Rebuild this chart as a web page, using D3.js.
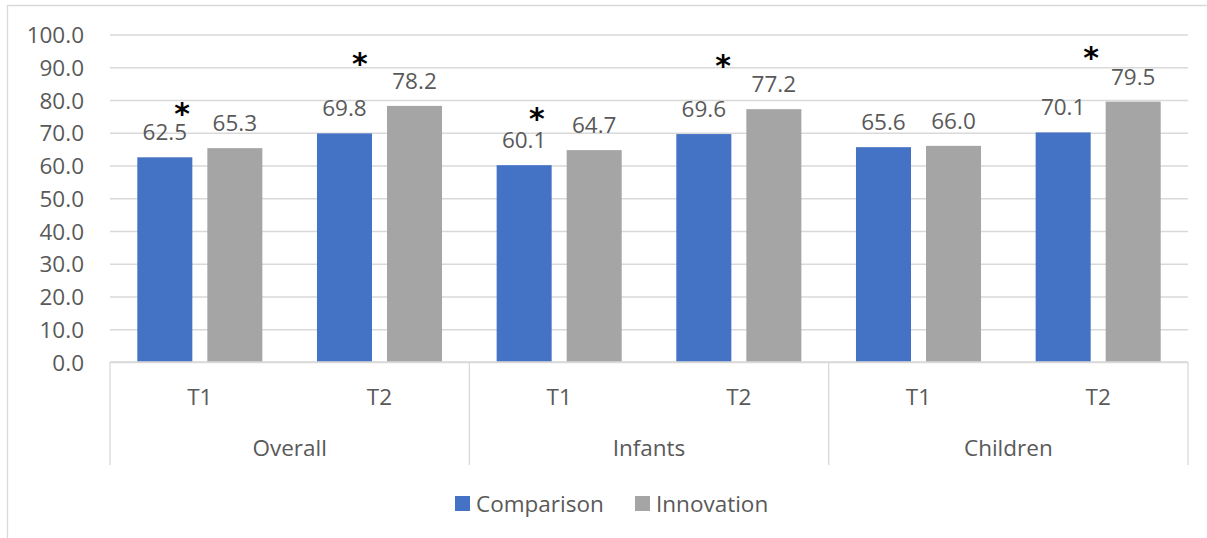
<!DOCTYPE html>
<html>
<head>
<meta charset="utf-8">
<script src="https://cdn.jsdelivr.net/npm/d3@7"></script>
<style>
  html, body { margin: 0; padding: 0; background: #fff; }
  svg { display: block; }
  text { font-family: "Open Sans", "Noto Sans", sans-serif; fill: #595959; }
</style>
</head>
<body>
<svg id="chart" width="1207" height="538"></svg>
<script>
// Groups and time points along the category axis
const groups = ["Overall", "Infants", "Children"];
const times = ["T1", "T2"];

// Series
const seriesNames = ["Comparison", "Innovation"];
const comparison = [62.5, 69.8, 60.1, 69.6, 65.6, 70.1];
const innovation = [65.3, 78.2, 64.7, 77.2, 66.0, 79.5];

// Value-axis ticks
const yTicks = [0, 10, 20, 30, 40, 50, 60, 70, 80, 90, 100];

// Significance markers: category index, height on the value axis, shift within the category
const sigIndex = [0, 1, 2, 3, 5];
const sigLevel = [78.5, 93.7, 76.9, 93.1, 95.3];
const sigShift = [-0.099, -0.109, -0.124, -0.088, -0.040];

const colors = { Comparison: "#4472c4", Innovation: "#a5a5a5" };
const gridColor = "#d9d9d9";

const svg = d3.select("#chart");
const plot = { left: 110, right: 1188, top: 34.5, bottom: 362 };

// Category keys: one per group/time pair
const cats = [];
groups.forEach(g => times.forEach(t => cats.push(g + "|" + t)));
const rows = cats.map((c, i) => ({ key: c, Comparison: comparison[i], Innovation: innovation[i] }));

const x0 = d3.scaleBand().domain(cats).range([plot.left, plot.right]).padding(0);
const x1 = d3.scaleBand().domain(seriesNames).range([0, x0.bandwidth()])
  .paddingInner(15 / 70).paddingOuter(0.39);
const y = d3.scaleLinear().domain([0, 100]).range([plot.bottom, plot.top]);
const xg = d3.scaleBand().domain(groups).range([plot.left, plot.right]).padding(0);

// Outer frame (left and top edges)
svg.append("path")
  .attr("d", "M7.5,538 L7.5,5.5 L1207,5.5")
  .attr("fill", "none").attr("stroke", gridColor).attr("stroke-width", 1.3);

// Gridlines and value-axis labels
const yAxis = d3.axisLeft(y).tickValues(yTicks).tickFormat(d3.format(".1f"))
  .tickSize(-(plot.right - plot.left)).tickPadding(26);
const ya = svg.append("g").attr("transform", `translate(${plot.left},0)`).call(yAxis);
ya.select(".domain").remove();
ya.selectAll(".tick line").attr("stroke", gridColor).attr("stroke-width", 1.3);
ya.selectAll(".tick text").attr("font-size", 22.5).attr("fill", "#595959")
  .attr("font-family", "'Open Sans', sans-serif").attr("dy", "0.36em");

// Bars
const gBars = svg.append("g");
rows.forEach(r => {
  seriesNames.forEach(s => {
    gBars.append("rect")
      .attr("x", x0(r.key) + x1(s))
      .attr("y", y(r[s]))
      .attr("width", x1.bandwidth())
      .attr("height", y(0) - y(r[s]))
      .attr("fill", colors[s]);
  });
});

// Value labels above bars
const gLabels = svg.append("g");
rows.forEach(r => {
  seriesNames.forEach(s => {
    gLabels.append("text")
      .attr("x", x0(r.key) + x1(s) + x1.bandwidth() / 2)
      .attr("y", y(r[s]) - 17)
      .attr("text-anchor", "middle")
      .attr("font-size", 22.5)
      .text(d3.format(".1f")(r[s]));
  });
});

// Significance asterisks
sigIndex.forEach((ci, i) => {
  const key = cats[ci];
  svg.append("text")
    .attr("x", x0(key) + x0.bandwidth() / 2 + sigShift[i] * x0.step())
    .attr("y", y(sigLevel[i]))
    .attr("dy", "0.62em")
    .attr("text-anchor", "middle")
    .attr("font-size", 30)
    .attr("font-weight", "bold")
    .style("font-family", "'DejaVu Sans', sans-serif")
    .style("fill", "#000")
    .text("*");
});

// Category axis baseline
svg.append("line")
  .attr("x1", plot.left).attr("x2", plot.right)
  .attr("y1", y(0)).attr("y2", y(0))
  .attr("stroke", gridColor).attr("stroke-width", 1.3);

// Group separators
const sepBottom = 465;
const seps = groups.map(g => xg(g)).concat([plot.right]);
svg.append("g").selectAll("line").data(seps).join("line")
  .attr("x1", d => d).attr("x2", d => d)
  .attr("y1", y(0)).attr("y2", sepBottom)
  .attr("stroke", gridColor).attr("stroke-width", 1.3);

// Time labels
svg.append("g").selectAll("text").data(cats).join("text")
  .attr("x", d => x0(d) + x0.bandwidth() / 2)
  .attr("y", 397)
  .attr("dy", "0.36em")
  .attr("text-anchor", "middle")
  .attr("font-size", 22.5)
  .text(d => d.split("|")[1]);

// Group labels
svg.append("g").selectAll("text").data(groups).join("text")
  .attr("x", d => xg(d) + xg.bandwidth() / 2)
  .attr("y", 448)
  .attr("dy", "0.36em")
  .attr("text-anchor", "middle")
  .attr("font-size", 22.5)
  .text(d => d);

// Legend
const legend = svg.append("g");
const legendX = [455, 635];
seriesNames.forEach((s, i) => {
  legend.append("rect")
    .attr("x", legendX[i]).attr("y", 496)
    .attr("width", 15).attr("height", 15)
    .attr("fill", colors[s]);
  legend.append("text")
    .attr("x", legendX[i] + 21).attr("y", 503.5)
    .attr("dy", "0.36em")
    .attr("font-size", 22.5)
    .text(s);
});
</script>
</body>
</html>
